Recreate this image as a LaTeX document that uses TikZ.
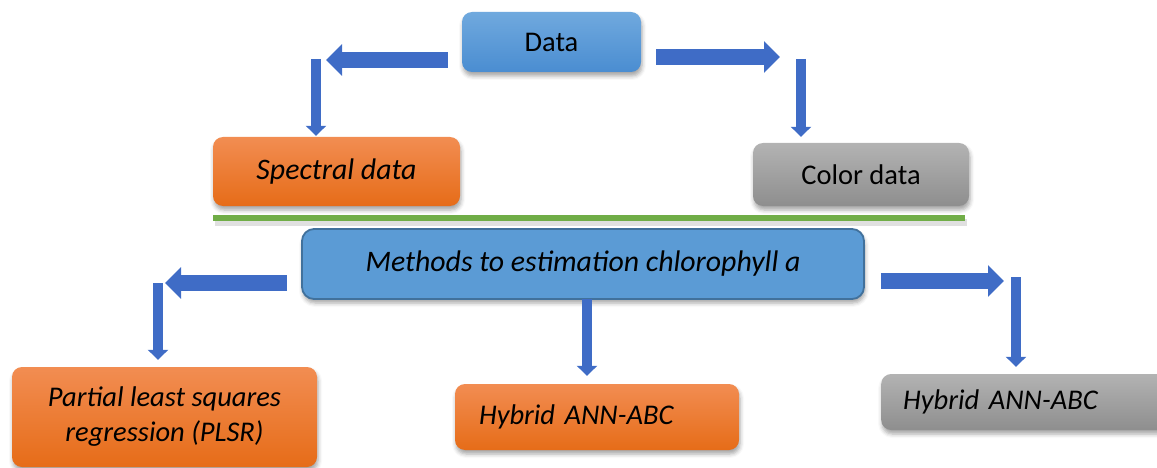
\documentclass[tikz,border=0pt]{standalone}
\usepackage{fontspec}
\setmainfont{Carlito}
\usetikzlibrary{arrows.meta,shadows.blur}

\definecolor{arrowblue}{HTML}{3F6CC6}
\definecolor{bluetop}{HTML}{70A9DE}
\definecolor{bluebot}{HTML}{4A8DD1}
\definecolor{orangetop}{HTML}{F28D52}
\definecolor{orangebot}{HTML}{E66C18}
\definecolor{graytop}{HTML}{B3B3B3}
\definecolor{graybot}{HTML}{8E8E8E}
\definecolor{methodfill}{HTML}{5B9BD5}
\definecolor{methodline}{HTML}{41719C}
\definecolor{rulegreen}{HTML}{70AD47}

\begin{document}
\begin{tikzpicture}[x=1pt,y=-1pt,
  box/.style={rectangle, rounded corners=10pt, inner sep=0pt,
    font=\fontsize{28.5}{35}\selectfont,
    blur shadow={shadow xshift=1pt, shadow yshift=-4pt,
      shadow blur radius=4pt, shadow opacity=35}},
  bluebox/.style={box, top color=bluetop, bottom color=bluebot},
  orangebox/.style={box, top color=orangetop, bottom color=orangebot, font=\fontsize{28.5}{35}\selectfont\itshape},
  graybox/.style={box, top color=graytop, bottom color=graybot},
  methodbox/.style={box, fill=methodfill, draw=methodline, line width=1.8pt,
    rounded corners=12pt, font=\fontsize{29.8}{36}\selectfont\itshape},
  harrow/.style={draw=arrowblue, line width=16pt,
    -{Triangle[width=31pt,length=16pt,fill=arrowblue]}},
  varrow/.style={draw=arrowblue, line width=10pt,
    -{Triangle[width=20pt,length=10pt,fill=arrowblue]}},
]
\useasboundingbox (0,0) rectangle (1157,468);

% boxes
\node[bluebox, minimum width=179pt, minimum height=60pt] (data) at (551.5,42) {Data};
\node[orangebox, minimum width=247pt, minimum height=69pt,
  font=\fontsize{29.8}{36}\selectfont\itshape] (spec) at (336.5,171.5) {Spectral data};
\node[graybox, minimum width=216pt, minimum height=63pt] (color) at (861,174.5) {Color data};

% separating rule
\fill[black, opacity=0.12] (215,219) rectangle (967,226);
\draw[rulegreen, line width=6pt] (213,218) -- (965,218);

\node[methodbox, minimum width=562pt, minimum height=70pt] (methods) at (583,264)
  {Methods to estimation chlorophyll a};

\node[orangebox, minimum width=305pt, minimum height=100pt, align=center] (plsr) at (164.5,417)
  {Partial least squares\\regression (PLSR)};
\node[orangebox, minimum width=284pt, minimum height=66pt, text width=236pt, align=left,
  inner xsep=24pt] (hyb1) at (597,417) {Hybrid ANN-ABC};
\node[graybox, anchor=west, minimum width=330pt, minimum height=56pt, text width=286pt,
  align=left, inner xsep=22pt, font=\fontsize{28.5}{35}\selectfont\itshape] (hyb2) at (881,402)
  {Hybrid ANN-ABC};

% bend points of the block arrows
\coordinate (k1) at (326,60);
\coordinate (c1) at (316,59);
\coordinate (k2) at (780,57);
\coordinate (c2) at (801,59);
\coordinate (k3) at (165,283);
\coordinate (c3) at (158,283);
\coordinate (c4) at (587,299);
\coordinate (k4) at (1004,281);
\coordinate (c5) at (1016,277);

% arrows from Data
\draw[harrow] ([shift={(-14,18)}]data.west) -- (k1);
\draw[varrow] (c1) -- ([yshift=1pt]c1 |- spec.north);
\draw[harrow] ([shift={(15,15)}]data.east) -- (k2);
\draw[varrow, shorten >=6pt] (c2) -- (c2 |- color.north);

% arrows from the methods box
\draw[harrow] ([shift={(-14,19)}]methods.west) -- (k3);
\draw[varrow, shorten >=7pt] (c3) -- (c3 |- plsr.north);
\draw[varrow, shorten >=8pt] (c4) -- (c4 |- hyb1.north);
\draw[harrow] ([shift={(16,17)}]methods.east) -- (k4);
\draw[varrow, shorten >=7pt] (c5) -- (c5 |- hyb2.north);
\end{tikzpicture}
\end{document}
